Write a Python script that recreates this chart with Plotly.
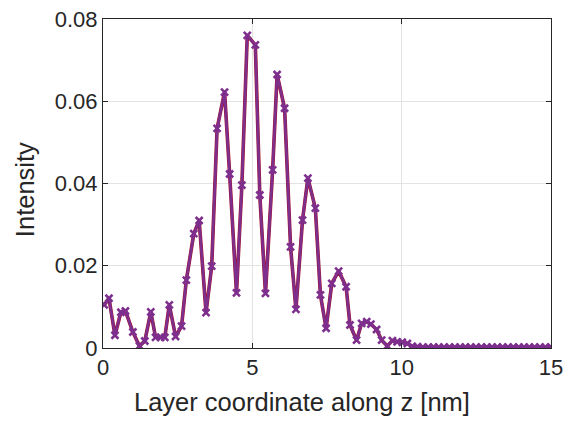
import plotly.graph_objects as go

# Layer coordinate (nm) and intensity
z_nm = [0.04, 0.20, 0.40, 0.60, 0.75, 1.00, 1.22, 1.40, 1.60, 1.76, 1.93, 2.07,
        2.22, 2.43, 2.63, 2.79, 3.04, 3.22, 3.45, 3.64, 3.82, 4.07, 4.24, 4.47,
        4.65, 4.83, 5.10, 5.25, 5.44, 5.68, 5.83, 6.08, 6.28, 6.46, 6.68, 6.86,
        7.11, 7.28, 7.47, 7.66, 7.89, 8.14, 8.27, 8.49, 8.66, 8.83, 8.97, 9.16,
        9.33, 9.52, 9.69, 9.85, 10.02, 10.19, 10.35, 10.53, 10.71, 10.89, 11.07,
        11.24, 11.42, 11.60, 11.78, 11.96, 12.13, 12.31, 12.49, 12.67, 12.85,
        13.03, 13.20, 13.38, 13.56, 13.74, 13.92, 14.10, 14.27, 14.45, 14.63,
        14.81, 15.00]
intensity = [0.0105, 0.0121, 0.0031, 0.0087, 0.0090, 0.0039, 0.0005, 0.0017,
             0.0088, 0.0026, 0.0026, 0.0026, 0.0105, 0.0028, 0.0053, 0.0165,
             0.0278, 0.0310, 0.0086, 0.0199, 0.0534, 0.0622, 0.0423, 0.0134,
             0.0396, 0.0760, 0.0737, 0.0372, 0.0133, 0.0433, 0.0665, 0.0583,
             0.0246, 0.0094, 0.0311, 0.0413, 0.0340, 0.0129, 0.0048, 0.0157,
             0.0187, 0.0149, 0.0056, 0.0019, 0.0060, 0.0064, 0.0058, 0.0045,
             0.0019, 0.0005, 0.0018, 0.0015, 0.0014, 0.0011, 0.0004, 0.0003,
             0.0002, 0.0002, 0.0002, 0.0002, 0.0002, 0.0002, 0.0002, 0.0002,
             0.0002, 0.0002, 0.0002, 0.0002, 0.0002, 0.0002, 0.0002, 0.0002,
             0.0002, 0.0002, 0.0002, 0.0002, 0.0002, 0.0002, 0.0002, 0.0002,
             0.0002]

x_ticks = [0, 5, 10, 15]
y_ticks = [0, 0.02, 0.04, 0.06, 0.08]
y_tick_text = ["0", "0.02", "0.04", "0.06", "0.08"]
x_title = "Layer coordinate along z [nm]"
y_title = "Intensity"

FONT = "Liberation Sans, Arial, Helvetica"
INK = "#262626"

fig = go.Figure()
fig.add_trace(go.Scatter(
    x=z_nm, y=intensity, mode="lines",
    line=dict(color="#A2142F", width=3.6), hoverinfo="skip", showlegend=False))
fig.add_trace(go.Scatter(
    x=z_nm, y=intensity, mode="lines+markers",
    line=dict(color="#7E2F8E", width=2.6),
    marker=dict(symbol="x-thin", size=7, line=dict(color="#7E2F8E", width=2.6)),
    showlegend=False))

axis_common = dict(
    showline=True, linecolor=INK, linewidth=1, mirror="ticks",
    ticks="inside", ticklen=5, tickcolor=INK,
    showgrid=True, gridcolor="#E3E3E3", gridwidth=1, zeroline=False,
    automargin=False, ticklabeloverflow="allow",
    tickfont=dict(family=FONT, size=22, color=INK),
)

fig.update_xaxes(range=[0, 15], tickvals=x_ticks, ticktext=[str(v) for v in x_ticks],
                 **axis_common)
fig.update_yaxes(range=[0, 0.08], tickvals=y_ticks, ticktext=y_tick_text,
                 **axis_common)

fig.add_annotation(text=x_title, xref="paper", yref="paper",
                   x=0.445, y=-0.163, xanchor="center", yanchor="middle",
                   showarrow=False, font=dict(family=FONT, size=25.5, color=INK))
fig.add_annotation(text=y_title, xref="paper", yref="paper",
                   x=-0.174, y=0.48, xanchor="center", yanchor="middle",
                   textangle=-90, showarrow=False,
                   font=dict(family=FONT, size=25.5, color=INK))

fig.update_layout(
    width=563, height=423,
    margin=dict(l=103, r=12, t=19, b=75),
    paper_bgcolor="white", plot_bgcolor="white",
    font=dict(family=FONT, color=INK),
)

fig.write_html("out.html")
